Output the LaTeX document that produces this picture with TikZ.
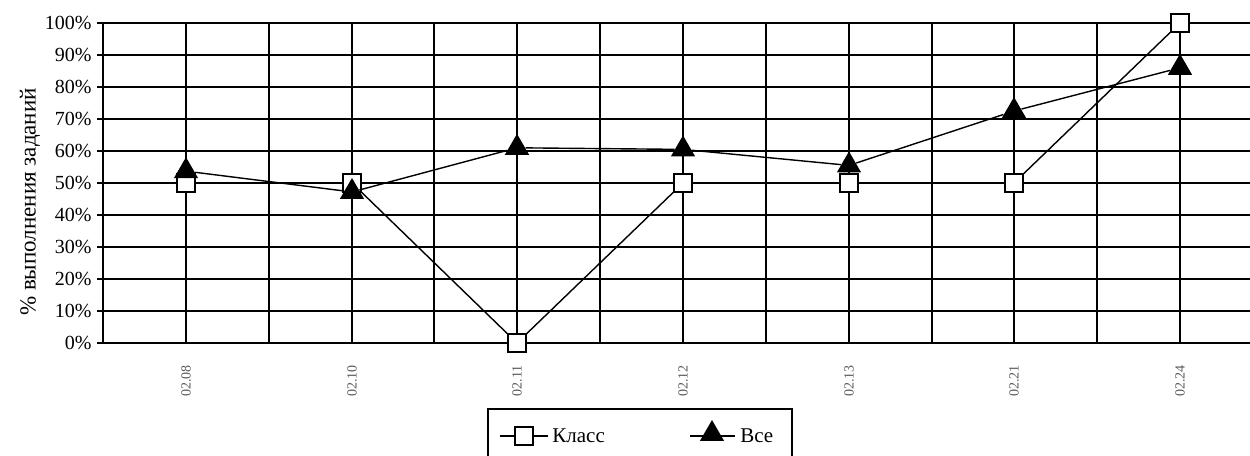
\documentclass[tikz,border=0pt]{standalone}
\usepackage{fontspec}
\setmainfont{Liberation Serif}
\usetikzlibrary{shapes.geometric,positioning}
\tikzset{%
  >=latex,
  gridline/.style={draw=black,line width=1pt},
  klass/.style={rectangle,draw=black,fill=white,line width=0.6pt,inner sep=0pt,minimum size=9pt},
  vse/.style={regular polygon,regular polygon sides=3,fill=black,inner sep=0pt,minimum size=14pt},
  serie/.style={draw=black,line width=0.7pt},
  ylab/.style={anchor=east,inner sep=1pt,font=\fontsize{10}{12}\selectfont},
  xlab/.style={rotate=90,text=black!65,inner sep=0pt,font=\fontsize{7}{8}\selectfont},
  legtext/.style={anchor=west,inner sep=0pt,font=\fontsize{10.5}{12}\selectfont}
}

\begin{document}
\begin{tikzpicture}[x=0.5pt,y=0.5pt]
  \useasboundingbox (0,0) rectangle (1250,456);
  \clip (0,0) rectangle (1250,456);
  % grid and axis labels
  \foreach \k in {0,...,13}
    \draw[gridline] ({round(103+82.85*\k)},113) -- ({round(103+82.85*\k)},433);
  \foreach \v in {0,10,...,100}{
    \draw[gridline] (97,113+3.2*\v) -- (1250,113+3.2*\v);
    \node[ylab] (tick\v) at (94,113+3.2*\v) {\v\%};
  }
  \foreach \d [count=\i from 0] in {02.08,02.10,02.11,02.12,02.13,02.21,02.24}
    \node[xlab] (date\i) at ({round(186+165.7*\i)},75) {\d};
  \node[rotate=90,font=\fontsize{11.5}{13}\selectfont] (ytitle) at (30,254) {\% выполнения заданий};
  % series
  \foreach \v [count=\i from 0] in {50,50,0,50,50,50,100}
    \node[klass] (k\i) at ({round(186+165.7*\i)},113+3.2*\v) {};
  \draw[serie] (k0) -- (k1) -- (k2) -- (k3) -- (k4) -- (k5) -- (k6);
  \foreach \v [count=\i from 0] in {53.7,47.2,61,60.5,55.5,72.5,86}
    \node[vse] (a\i) at ({round(186+165.7*\i)},113+3.2*\v) {};
  \draw[serie] (a0) -- (a1) -- (a2) -- (a3) -- (a4) -- (a5) -- (a6);
  % legend
  \draw[line width=0.8pt] (488,47) rectangle (792,-20);
  \node[klass] (lk) at (524,20) {};
  \draw[serie] (lk.west) -- ++(-14,0) (lk.east) -- ++(14,0);
  \node[legtext] (lktext) at (552,20) {Класс};
  \draw[serie] (690,20) coordinate (la-w) -- (735,20) coordinate (la-e);
  \node[vse] (la) at (712,22) {};
  \node[legtext] (latext) at (740,20) {Все};
\end{tikzpicture}
\end{document}
